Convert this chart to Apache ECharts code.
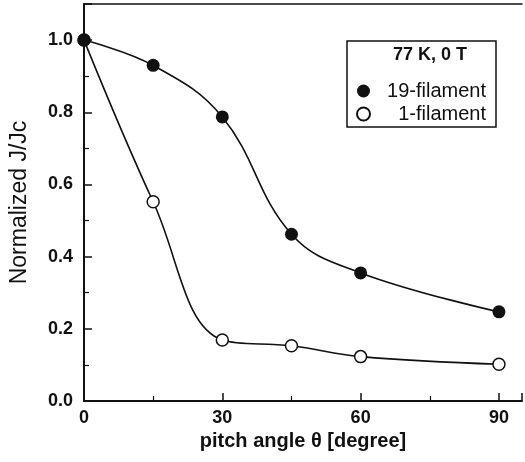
<!DOCTYPE html>
<html>
<head>
<meta charset="utf-8">
<script src="https://cdn.jsdelivr.net/npm/echarts@6/dist/echarts.min.js"></script>
<style>
html,body{margin:0;padding:0;background:#fff;}
#chart{width:525px;height:462px;}
</style>
</head>
<body>
<div id="chart"></div>
<script>
const angles = [0, 15, 30, 45, 60, 90];
const jc19 = [1.0, 0.93, 0.787, 0.462, 0.355, 0.247];
const jc1 = [1.0, 0.552, 0.169, 0.153, 0.123, 0.102];
const seriesNames = ['19-filament', '1-filament'];
const legendTitle = '77 K, 0 T';
const xName = 'pitch angle \u03b8 [degree]';
const yName = 'Normalized J/Jc';
const xTicks = [0, 30, 60, 90];
const yTicks = [0.0, 0.2, 0.4, 0.6, 0.8, 1.0];

const FONT = 'Liberation Sans, Arial, Helvetica, sans-serif';
const INK = '#111';

function pairs(xs, ys) { return xs.map((x, i) => [x, ys[i]]); }

const chart = echarts.init(document.getElementById('chart'), null, {renderer: 'canvas'});
chart.setOption({
  animation: false,
  backgroundColor: '#fff',
  title: {
    text: legendTitle,
    left: 393, top: 45, padding: 0,
    textStyle: {fontFamily: FONT, fontSize: 18, fontWeight: 'bold', color: INK, lineHeight: 20}
  },
  legend: {
    orient: 'vertical',
    left: 347, top: 41,
    padding: [40, 10, 3, 9],
    itemGap: 3,
    itemWidth: 13, itemHeight: 13,
    borderColor: INK, borderWidth: 1.5,
    data: [{name: seriesNames[0], icon: 'circle'}, {name: seriesNames[1], icon: 'circle'}],
    formatter: n => '{t|' + n + '}',
    textStyle: {
      rich: {t: {width: 111, align: 'right', fontFamily: FONT, fontSize: 20, lineHeight: 20, color: INK}}
    }
  },
  grid: {left: 80, top: 4, right: 0, bottom: 61, containLabel: false},
  xAxis: [{
    type: 'value', min: 0, max: 95, interval: 30,
    name: xName, nameLocation: 'middle', nameGap: 28,
    nameTextStyle: {fontFamily: FONT, fontSize: 20, fontWeight: 'bold', color: INK},
    axisLine: {show: true, onZero: false, lineStyle: {color: INK, width: 2}},
    axisTick: {show: true, inside: true, length: 8, lineStyle: {color: INK, width: 1.5}},
    minorTick: {show: true, splitNumber: 2, length: 5, lineStyle: {color: INK, width: 1.2}},
    axisLabel: {
      margin: 8, fontFamily: FONT, fontSize: 18, fontWeight: 'bold', color: INK,
      formatter: v => xTicks.indexOf(v) >= 0 ? String(v) : ''
    },
    splitLine: {show: false}
  }, {
    type: 'value', position: 'top', min: 0, max: 95, interval: 30,
    axisLine: {show: true, onZero: false, lineStyle: {color: INK, width: 1.5}},
    axisTick: {show: false}, axisLabel: {show: false}, splitLine: {show: false}
  }],
  yAxis: {
    type: 'value', min: 0, max: 1.1, interval: 0.2,
    name: yName, nameLocation: 'middle', nameRotate: 90, nameGap: 53,
    nameTextStyle: {fontFamily: FONT, fontSize: 23, color: INK},
    axisLine: {show: true, onZero: false, lineStyle: {color: INK, width: 2}},
    axisTick: {show: true, inside: true, length: 8, lineStyle: {color: INK, width: 1.5}},
    minorTick: {show: true, splitNumber: 2, length: 5, lineStyle: {color: INK, width: 1.2}},
    axisLabel: {
      margin: 11, fontFamily: FONT, fontSize: 18, fontWeight: 'bold', color: INK,
      formatter: v => {
        const r = Math.round(v * 10) / 10;
        return yTicks.some(t => Math.abs(t - r) < 1e-6) && Math.abs(v - r) < 1e-6 ? r.toFixed(1) : '';
      }
    },
    splitLine: {show: false}
  },
  series: [{
    name: seriesNames[1], type: 'line', data: pairs(angles, jc1),
    smooth: 0.4,
    symbol: 'circle', symbolSize: 12,
    lineStyle: {color: INK, width: 1.6},
    itemStyle: {color: '#fff', borderColor: INK, borderWidth: 1.5},
    z: 3
  }, {
    name: seriesNames[0], type: 'line', data: pairs(angles, jc19),
    smooth: 0.4,
    symbol: 'circle', symbolSize: 13,
    lineStyle: {color: INK, width: 1.6},
    itemStyle: {color: INK, borderColor: INK, borderWidth: 0},
    z: 4
  }]
});
</script>
</body>
</html>
